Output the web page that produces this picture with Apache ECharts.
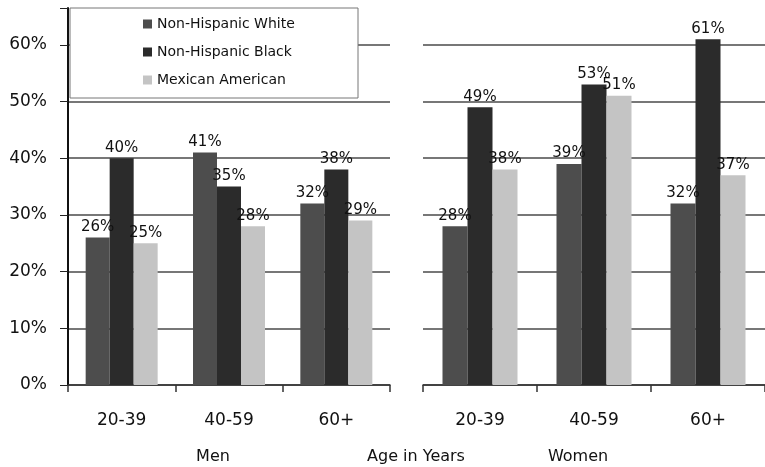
<!DOCTYPE html>
<html>
<head>
<meta charset="utf-8">
<script src="https://cdn.jsdelivr.net/npm/echarts@6/dist/echarts.min.js"></script>
<style>
  html, body { margin: 0; padding: 0; background: #fff; }
  #chart { width: 765px; height: 467px; }
</style>
</head>
<body>
<div id="chart"></div>
<script>
// Obesity prevalence by age group, sex and race/ethnicity (percent)
const ageGroups = ['20-39', '40-59', '60+'];
const seriesNames = ['Non-Hispanic White', 'Non-Hispanic Black', 'Mexican American'];
const menWhite = [26, 41, 32];
const menBlack = [40, 35, 38];
const menMexican = [25, 28, 29];
const womenWhite = [28, 39, 32];
const womenBlack = [49, 53, 61];
const womenMexican = [38, 51, 37];
const yTicks = [0, 10, 20, 30, 40, 50, 60];

const FONT = '"DejaVu Sans", sans-serif';
const colors = ['#4d4d4d', '#2b2b2b', '#c4c4c4'];
const Y_MAX = 66.5;

// gridlines at the labelled ticks only; the top edge stays clear
const gridColors = yTicks.map(() => '#4a4a4a').concat(['rgba(0,0,0,0)']);

function yAxis(gridIndex, showAxis) {
  return {
    type: 'value', gridIndex, min: 0, max: Y_MAX, interval: 10,
    axisLine: { show: showAxis, lineStyle: { color: '#111', width: 2 } },
    axisTick: { show: showAxis, length: 8, lineStyle: { color: '#222', width: 1 } },
    axisLabel: {
      show: showAxis, margin: 21, fontFamily: FONT, fontSize: 17, color: '#111',
      formatter: v => (yTicks.includes(v) ? v + '%' : '')
    },
    splitLine: { show: true, lineStyle: { color: gridColors, width: 1.5 } }
  };
}

function xAxis(gridIndex) {
  return {
    type: 'category', gridIndex, data: ageGroups,
    axisLine: { lineStyle: { color: '#333', width: 1.5 } },
    axisTick: { show: true, length: 7, lineStyle: { color: '#333', width: 1.5 } },
    axisLabel: { margin: 27, fontFamily: FONT, fontSize: 17, color: '#111' }
  };
}

function barSeries(name, values, axisIndex, color, width) {
  return {
    name, type: 'bar', data: values,
    xAxisIndex: axisIndex, yAxisIndex: axisIndex,
    barWidth: width, barGap: '0%',
    itemStyle: { color },
    label: {
      show: true, position: 'top', distance: 3,
      fontFamily: FONT, fontSize: 15, color: '#111',
      formatter: p => p.value + '%'
    }
  };
}

const chart = echarts.init(document.getElementById('chart'), null, { renderer: 'canvas' });
chart.setOption({
  animation: false,
  backgroundColor: '#fff',
  grid: [
    { left: 68, top: 8, width: 322, height: 377 },
    { left: 423, top: 8, width: 347, height: 377 }
  ],
  xAxis: [xAxis(0), xAxis(1)],
  yAxis: [yAxis(0, true), yAxis(1, false)],
  legend: {
    orient: 'vertical', left: 138, top: 12, z: 20,
    itemWidth: 9, itemHeight: 9, itemGap: 14, icon: 'rect',
    textStyle: { fontFamily: FONT, fontSize: 14, color: '#111' },
    data: seriesNames
  },
  graphic: [
    { type: 'rect', z: 10, shape: { x: 70, y: 8, width: 288, height: 90 },
      style: { fill: '#fff', stroke: '#777', lineWidth: 1 } },
    { type: 'text', x: 213, y: 457, style: { text: 'Men', font: '16px ' + FONT, fill: '#111', align: 'center', verticalAlign: 'middle' } },
    { type: 'text', x: 416, y: 457, style: { text: 'Age in Years', font: '16px ' + FONT, fill: '#111', align: 'center', verticalAlign: 'middle' } },
    { type: 'text', x: 578, y: 457, style: { text: 'Women', font: '16px ' + FONT, fill: '#111', align: 'center', verticalAlign: 'middle' } }
  ],
  series: [
    barSeries(seriesNames[0], menWhite, 0, colors[0], 24),
    barSeries(seriesNames[1], menBlack, 0, colors[1], 24),
    barSeries(seriesNames[2], menMexican, 0, colors[2], 24),
    barSeries(seriesNames[0], womenWhite, 1, colors[0], 25),
    barSeries(seriesNames[1], womenBlack, 1, colors[1], 25),
    barSeries(seriesNames[2], womenMexican, 1, colors[2], 25)
  ]
});
</script>
</body>
</html>
